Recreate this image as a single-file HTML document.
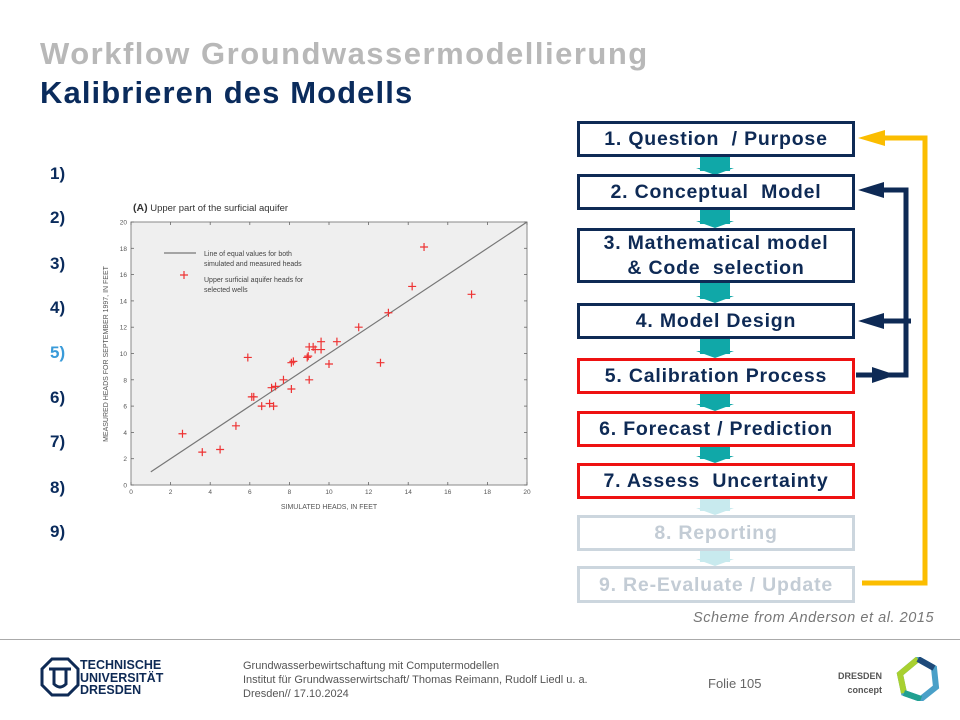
<!DOCTYPE html>
<html><head><meta charset="utf-8"><style>
body{margin:0;width:960px;height:720px;background:#fff;position:relative;overflow:hidden;font-family:"Liberation Sans","DejaVu Sans",sans-serif}
.abs{position:absolute}
.t1{left:40px;top:36px;font-size:31px;font-weight:bold;color:#b8b8b8;letter-spacing:1.5px}
.t2{left:40px;top:75px;font-size:31px;font-weight:bold;color:#0a2b5c;letter-spacing:1.1px}
.num{left:50px;font-size:17px;font-weight:bold;color:#0a2b5c}
.box{position:absolute;left:577px;width:272px;border:3px solid #0e2a55;background:#fff;text-align:center;font-weight:bold;font-size:19.5px;color:#0e2a55;display:flex;align-items:center;justify-content:center;line-height:26px;box-sizing:content-box;letter-spacing:0.8px}
.red{border-color:#ee1111}
.fade{border-color:#ccd6de;color:#c3ccd5}
.foot{font-size:11px;color:#555;line-height:14px}
</style></head><body>
<div class="abs t1">Workflow Groundwassermodellierung</div>
<div class="abs t2">Kalibrieren des Modells</div>

<div class="abs num" style="top:164px">1)</div>
<div class="abs num" style="top:208px">2)</div>
<div class="abs num" style="top:254px">3)</div>
<div class="abs num" style="top:298px">4)</div>
<div class="abs num" style="top:343px;color:#3a9bd9">5)</div>
<div class="abs num" style="top:388px">6)</div>
<div class="abs num" style="top:432px">7)</div>
<div class="abs num" style="top:478px">8)</div>
<div class="abs num" style="top:522px">9)</div>

<svg class="abs" style="left:0;top:0" width="960" height="720">
<g id="chart"></g>
</svg>

<svg class="abs" style="left:0;top:0" width="960" height="720">
<g fill="#10a8a8">
<rect x="700" y="157" width="30" height="14"/><polygon points="696,168 734,168 715,175"/>
<rect x="700" y="210" width="30" height="14"/><polygon points="696,221 734,221 715,228"/>
<rect x="700" y="283" width="30" height="16"/><polygon points="696,296 734,296 715,303"/>
<rect x="700" y="338" width="30" height="16"/><polygon points="696,351 734,351 715,358"/>
<rect x="700" y="393" width="30" height="14"/><polygon points="696,404 734,404 715,411"/>
<rect x="700" y="446" width="30" height="13"/><polygon points="696,456 734,456 715,463"/>
</g>
<g fill="#c8eaee">
<rect x="700" y="498" width="30" height="13"/><polygon points="696,508 734,508 715,515"/>
<rect x="700" y="550" width="30" height="12"/><polygon points="696,559 734,559 715,566"/>
</g>
<g>
<polyline points="862,583 925,583 925,138 880,138" fill="none" stroke="#fbbd00" stroke-width="5"/>
<polygon points="858,138 885,130 885,146" fill="#fbbd00"/>
</g>
<g>
<polyline points="856,375 906,375 906,190 880,190" fill="none" stroke="#0e2a55" stroke-width="5"/>
<line x1="911" y1="321" x2="878" y2="321" stroke="#0e2a55" stroke-width="5"/>
<polygon points="858,190 884,182 884,198" fill="#0e2a55"/>
<polygon points="858,321 884,313 884,329" fill="#0e2a55"/>
<polygon points="896,375 872,367 872,383" fill="#0e2a55"/>
</g>
</svg>

<div class="box" style="top:121px;height:30px">1. Question&nbsp; / Purpose</div>
<div class="box" style="top:174px;height:30px">2. Conceptual&nbsp; Model</div>
<div class="box" style="top:228px;height:49px;line-height:25px">3. Mathematical model<br>&amp; Code&nbsp; selection</div>
<div class="box" style="top:303px;height:30px">4. Model Design</div>
<div class="box red" style="top:358px;height:30px">5. Calibration Process</div>
<div class="box red" style="top:411px;height:30px">6. Forecast / Prediction</div>
<div class="box red" style="top:463px;height:30px">7. Assess&nbsp; Uncertainty</div>
<div class="box fade" style="top:515px;height:30px">8. Reporting</div>
<div class="box fade" style="top:566px;height:31px">9. Re-Evaluate / Update</div>

<div class="abs" style="left:693px;top:610px;font-size:14.5px;font-style:italic;color:#777;letter-spacing:0.55px">Scheme from Anderson et al. 2015</div>

<div class="abs" style="left:0;top:639px;width:960px;height:1px;background:#aaa"></div>
<svg class="abs" style="left:40px;top:657px" width="40" height="40">
<polygon points="12,2 28,2 38,12 38,28 28,38 12,38 2,28 2,12" fill="none" stroke="#0e2a55" stroke-width="3"/>
<path d="M9 12 H31 M14 12 V27 Q20 33 26 27 V12" fill="none" stroke="#0e2a55" stroke-width="3"/>
</svg>
<div class="abs" style="left:80px;top:659px;font-size:12.5px;font-weight:bold;color:#0e2a55;line-height:12.5px">TECHNISCHE<br>UNIVERSITÄT<br>DRESDEN</div>
<div class="abs foot" style="left:243px;top:659px">Grundwasserbewirtschaftung mit Computermodellen<br>Institut für Grundwasserwirtschaft/ Thomas Reimann, Rudolf Liedl u. a.<br>Dresden// 17.10.2024</div>
<div class="abs" style="left:708px;top:676px;font-size:13px;color:#666">Folie 105</div>
<div class="abs" style="left:838px;top:669px;font-size:9px;font-weight:bold;color:#555;text-align:right;line-height:14px">DRESDEN<br>concept</div>
<svg class="abs" style="left:896px;top:657px" width="44" height="44">
<polygon points="22,2 38,11 40,30 25,42 8,36 4,17" fill="none" stroke="#4aa0c8" stroke-width="6"/>
<polyline points="8,36 4,17 22,2" fill="none" stroke="#a8d030" stroke-width="6"/>
<polyline points="22,2 38,11" fill="none" stroke="#1e4a7a" stroke-width="6"/>
<polyline points="25,42 8,36" fill="none" stroke="#20a090" stroke-width="6"/>
</svg>

<script>
const xVals=[2.6,3.6,4.5,5.3,5.9,6.1,6.2,6.6,7.0,7.2,7.1,7.3,7.7,8.1,8.1,8.2,8.9,8.95,9.0,9.0,9.2,9.3,9.6,9.6,10.0,10.4,11.5,12.6,13.0,14.2,14.8,17.2];
const yVals=[3.9,2.5,2.7,4.5,9.7,6.7,6.7,6.0,6.2,6.0,7.4,7.5,8.0,7.3,9.3,9.4,9.7,9.8,8.0,10.5,10.5,10.3,10.9,10.3,9.2,10.9,12.0,9.3,13.1,15.1,18.1,14.5];
const xTicks=[0,2,4,6,8,10,12,14,16,18,20];
const yTicks=[0,2,4,6,8,10,12,14,16,18,20];
const equalLine=[1,20];
const X0=131,X1=527,Y0=485,Y1=222;
const sx=v=>X0+(v-0)/20*(X1-X0);
const sy=v=>Y0-(v-0)/20*(Y0-Y1);
const g=document.getElementById('chart');
const NS='http://www.w3.org/2000/svg';
function mk(tag,attrs){const e=document.createElementNS(NS,tag);for(const k in attrs)e.setAttribute(k,attrs[k]);g.appendChild(e);return e;}
let e;
e=mk('rect',{x:X0,y:Y1,width:X1-X0,height:Y0-Y1,fill:'#efefef',stroke:'#888','stroke-width':1});


e=mk('text',{x:133,y:211,'font-size':9.5,fill:'#333'});e.innerHTML='<tspan font-weight="bold" font-size="10.5">(A)</tspan> Upper part of the surficial aquifer';


xTicks.forEach(v=>{
 e=mk('text',{x:sx(v),y:Y0+9,'font-size':6.5,fill:'#555','text-anchor':'middle'});e.textContent=v;
 
 
 mk('line',{x1:sx(v),x2:sx(v),y1:Y0,y2:Y0-3,stroke:'#666','stroke-width':0.8});
 mk('line',{x1:sx(v),x2:sx(v),y1:Y1,y2:Y1+3,stroke:'#666','stroke-width':0.8});
});
yTicks.forEach(v=>{
 e=mk('text',{x:X0-4,y:sy(v)+2.5,'font-size':6.5,fill:'#555','text-anchor':'end'});e.textContent=v;
 
 
 mk('line',{x1:X0,x2:X0+3,y1:sy(v),y2:sy(v),stroke:'#666','stroke-width':0.8});
 mk('line',{x1:X1,x2:X1-3,y1:sy(v),y2:sy(v),stroke:'#666','stroke-width':0.8});
});
e=mk('text',{x:(X0+X1)/2,y:509,'font-size':7,fill:'#555','text-anchor':'middle'});e.textContent='SIMULATED HEADS, IN FEET';


e=mk('text',{x:0,y:0,'font-size':7,fill:'#555','text-anchor':'middle',transform:'translate(108,354) rotate(-90)'});e.textContent='MEASURED HEADS FOR SEPTEMBER 1997, IN FEET';


e=mk('line',{x1:sx(equalLine[0]),y1:sy(equalLine[0]),x2:sx(equalLine[1]),y2:sy(equalLine[1]),stroke:'#777','stroke-width':1.2});


mk('line',{x1:164,x2:196,y1:253,y2:253,stroke:'#777','stroke-width':1.2});
e=mk('text',{x:204,y:256,'font-size':7,fill:'#444'});e.textContent='Line of equal values for both';


mk('text',{x:204,y:266,'font-size':7,fill:'#444'}).textContent='simulated and measured heads';
mk('path',{d:'M180 275 h8 M184 271 v8',stroke:'#e33','stroke-width':1.2});
e=mk('text',{x:204,y:282,'font-size':7,fill:'#444'});e.textContent='Upper surficial aquifer heads for';


mk('text',{x:204,y:292,'font-size':7,fill:'#444'}).textContent='selected wells';
xVals.forEach((xv,i)=>{
 const cx=sx(xv),cy=sy(yVals[i]);
 const p=mk('path',{d:`M${cx-4} ${cy} h8 M${cx} ${cy-4} v8`,stroke:'#e33','stroke-width':1.2});
 
 
});
</script>
</body></html>
